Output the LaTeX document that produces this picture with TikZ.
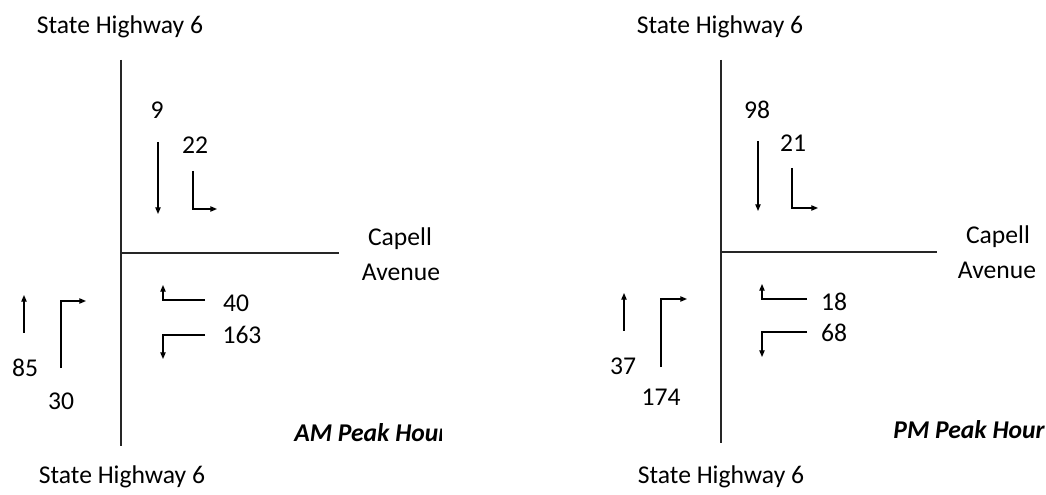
\documentclass[tikz,border=0pt]{standalone}
\usepackage{fontspec}
\setmainfont{Carlito}
\usetikzlibrary{arrows.meta}
\begin{document}
\begin{tikzpicture}[x=0.75pt,y=-0.75pt,
  road/.style={line width=1.9pt,draw=black!85},
  flow/.style={line width=0.9pt,-{Triangle[length=5pt,width=4pt]}},
  lbl/.style={font=\fontsize{19.2}{22}\selectfont,inner sep=0pt},
  peak/.style={font=\fontsize{19.2}{22}\selectfont\bfseries\itshape,inner sep=0pt}]
\useasboundingbox[fill=white] (0,0) rectangle (1046,495);
% ---------------- AM panel ----------------
\node[lbl] (amTop) at (120,27) {State Highway 6};
\node[lbl] (amBot) at (122,477) {State Highway 6};
\coordinate (amVT) at (121,60);
\coordinate (amVB) at (121,446);
\coordinate (amHL) at (121,253);
\coordinate (amHR) at (339,253);
\draw[road] (amVT) -- (amVB);
\draw[road] (amHL) -- (amHR);
\node[lbl] (amCap) at (400,239) {Capell};
\node[lbl] (amAve) at (401,272) {Avenue};
% southbound through 9
\node[lbl] (am9) at (157,110) {9};
\coordinate (am9a) at (158,142);
\coordinate (am9b) at (158,214);
\draw[flow] (am9a) -- (am9b);
% southbound left 22
\node[lbl] (am22) at (195,145) {22};
\coordinate (am22a) at (193,171);
\coordinate (am22c) at (217,209);
\draw[flow] (am22a) |- (am22c);
% westbound right 40
\node[lbl] (am40) at (236,303) {40};
\coordinate (am40a) at (205,300);
\coordinate (am40c) at (163,285);
\draw[flow] (am40a) -| (am40c);
% westbound left 163
\node[lbl] (am163) at (242,335) {163};
\coordinate (am163a) at (205,335);
\coordinate (am163c) at (163,359);
\draw[flow] (am163a) -| (am163c);
% northbound 85
\node[lbl] (am85) at (25,368) {85};
\coordinate (am85a) at (24,333);
\coordinate (am85b) at (24,295);
\draw[flow] (am85a) -- (am85b);
% northbound right 30
\node[lbl] (am30) at (61,401) {30};
\coordinate (am30a) at (61,368);
\coordinate (am30c) at (86,301);
\draw[flow] (am30a) |- (am30c);
\begin{scope}
\clip (280,405) rectangle (441,465);
\node[peak,anchor=west] (amPeak) at (294,433) {AM Peak Hour};
\end{scope}
% ---------------- PM panel ----------------
\node[lbl] (pmTop) at (720,27) {State Highway 6};
\node[lbl] (pmBot) at (721,477) {State Highway 6};
\coordinate (pmVT) at (721,60);
\coordinate (pmVB) at (721,443);
\coordinate (pmHL) at (721,252);
\coordinate (pmHR) at (937,252);
\draw[road] (pmVT) -- (pmVB);
\draw[road] (pmHL) -- (pmHR);
\node[lbl] (pmCap) at (998,237) {Capell};
\node[lbl] (pmAve) at (997,270) {Avenue};
\node[lbl] (pm98) at (757,110) {98};
\coordinate (pm98a) at (758,141);
\coordinate (pm98b) at (758,211);
\draw[flow] (pm98a) -- (pm98b);
\node[lbl] (pm21) at (793,143) {21};
\coordinate (pm21a) at (792,168);
\coordinate (pm21c) at (818,208);
\draw[flow] (pm21a) |- (pm21c);
\node[lbl] (pm18) at (834,302) {18};
\coordinate (pm18a) at (807,299);
\coordinate (pm18c) at (762,284);
\draw[flow] (pm18a) -| (pm18c);
\node[lbl] (pm68) at (834,333) {68};
\coordinate (pm68a) at (807,332);
\coordinate (pm68c) at (762,357);
\draw[flow] (pm68a) -| (pm68c);
\node[lbl] (pm37) at (623,366) {37};
\coordinate (pm37a) at (624,331);
\coordinate (pm37b) at (624,293);
\draw[flow] (pm37a) -- (pm37b);
\node[lbl] (pm174) at (661,397) {174};
\coordinate (pm174a) at (661,367);
\coordinate (pm174c) at (687,299);
\draw[flow] (pm174a) |- (pm174c);
\node[peak,anchor=east] (pmPeak) at (1045,430) {PM Peak Hour};
\end{tikzpicture}
\end{document}
